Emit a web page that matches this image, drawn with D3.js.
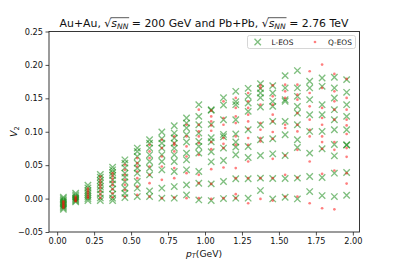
<!DOCTYPE html>
<html><head><meta charset="utf-8">
<script src="https://cdn.jsdelivr.net/npm/d3@7"></script>
<style>
body{margin:0;background:#fff;}
text{font-family:"DejaVu Sans",sans-serif;}
</style></head>
<body><svg id="c" width="399" height="266"></svg>
<script>
// pT bin centers (GeV)
const pT = [0.042,0.125,0.208,0.292,0.375,0.458,0.542,0.625,0.708,0.792,0.875,0.958,
            1.042,1.125,1.208,1.292,1.375,1.458,1.542,1.625,1.708,1.792,1.875,1.958];
// L-EOS v2 values, one list per pT bin
const lEOS = [
 [0.002,0.0,-0.002,-0.004,-0.006,-0.008,-0.010,-0.012,-0.014,-0.016],
 [0.008,0.0055,0.003,0.001,-0.0005,-0.002,-0.0035,-0.005],
 [0.020,0.016,0.012,0.009,0.006,0.003,0.000,-0.003],
 [0.036,0.032,0.027,0.023,0.018,0.013,0.007,0.001,-0.003],
 [0.047,0.043,0.039,0.0345,0.028,0.022,0.0145,0.0066,0.0006,-0.003],
 [0.058,0.053,0.046,0.038,0.032,0.025,0.0155,0.008,0.0015],
 [0.0756,0.0705,0.063,0.053,0.0456,0.038,0.0255,0.0156,0.003],
 [0.088,0.083,0.0756,0.0655,0.0555,0.0456,0.0355,0.0115,0.003],
 [0.0996,0.0895,0.083,0.0756,0.0655,0.0555,0.043,0.0156,0.0006],
 [0.109,0.098,0.0906,0.083,0.0756,0.0655,0.0555,0.0405,0.018,0.0006],
 [0.1206,0.113,0.1056,0.0955,0.0846,0.068,0.058,0.043,0.0205,0.0055],
 [0.1405,0.123,0.1105,0.098,0.0855,0.078,0.068,0.0405,0.023,-0.002],
 [0.133,0.132,0.111,0.091,0.085,0.070,0.055,0.022,-0.003],
 [0.151,0.140,0.118,0.096,0.0925,0.0756,0.057,0.0255,0.000],
 [0.1605,0.145,0.1405,0.118,0.0966,0.0846,0.077,0.0656,0.0296,0.0006],
 [0.165,0.153,0.143,0.1305,0.103,0.078,0.0615,0.0296,0.0006],
 [0.172,0.1645,0.158,0.151,0.137,0.1105,0.088,0.0645,0.0306,0.012],
 [0.169,0.158,0.1455,0.138,0.1155,0.0895,0.067,0.030,-0.0005],
 [0.184,0.1656,0.148,0.1455,0.1155,0.0955,0.0645,0.030,0.002],
 [0.1915,0.1656,0.153,0.138,0.128,0.1105,0.088,0.0765,0.0306,-0.0005],
 [0.1755,0.1656,0.148,0.1255,0.1005,0.068,0.033,0.0105],
 [0.1805,0.168,0.1405,0.1255,0.1005,0.0745,0.0315,0.0045],
 [0.1815,0.1656,0.1505,0.133,0.118,0.103,0.081,0.064,0.038,0.003],
 [0.178,0.159,0.1405,0.123,0.103,0.0805,0.080,0.039,0.005]
];
// Q-EOS v2 values, one list per pT bin
const qEOS = [
 [-0.004,-0.006,-0.008,-0.010,-0.012,-0.014],
 [0.003,0.001,-0.001,-0.003,-0.004],
 [0.015,0.012,0.009,0.006,0.003,0.001],
 [0.033,0.028,0.024,0.020,0.016,0.011,0.006,0.001],
 [0.038,0.034,0.030,0.025,0.020,0.014,0.008,0.002],
 [0.0506,0.043,0.0356,0.028,0.0206,0.013,0.003],
 [0.0606,0.053,0.048,0.0405,0.0306,0.018,0.0055],
 [0.0805,0.0705,0.0606,0.048,0.0355,0.023,0.003],
 [0.088,0.0756,0.063,0.048,0.028,0.0006],
 [0.093,0.083,0.0805,0.0705,0.0456,0.0306,0.0015],
 [0.1105,0.093,0.078,0.063,0.038,0.0006],
 [0.133,0.1105,0.1005,0.093,0.083,0.0655,0.0355,0.023,0.0006],
 [0.1316,0.123,0.1155,0.1095,0.1015,0.0846,0.074,0.044,0.022,-0.0005],
 [0.1455,0.1206,0.1105,0.0906,0.082,0.0756,0.0465,0.0006],
 [0.1506,0.1356,0.123,0.113,0.093,0.0805,0.0456,0.0306,0.0066,0.0006],
 [0.158,0.1455,0.1356,0.1255,0.1155,0.1045,0.0906,0.0805,0.0555,0.0306,-0.007],
 [0.1695,0.1656,0.1405,0.113,0.103,0.0906,0.0855,0.0306,-0.0005],
 [0.1695,0.153,0.1405,0.1255,0.1155,0.0996,0.0895,0.0595,0.0306,-0.003],
 [0.1705,0.1605,0.1506,0.1105,0.1056,0.0645,0.0355,0.003],
 [0.1705,0.1555,0.148,0.128,0.1105,0.1005,0.073,0.0315,0.003],
 [0.1905,0.158,0.138,0.118,0.103,0.093,0.0555,-0.007],
 [0.2005,0.1656,0.1356,0.1206,0.1105,0.093,0.0846,0.0745,0.037,-0.0145],
 [0.1865,0.1605,0.1455,0.133,0.118,0.0846,0.073,0.042,-0.016],
 [0.179,0.1506,0.133,0.118,0.1095,0.0966,0.0756,0.0625,0.038,0.0225]
];
const xTicks = [0,0.25,0.5,0.75,1.0,1.25,1.5,1.75,2.0];
const yTicks = [-0.05,0,0.05,0.10,0.15,0.20,0.25];
const seriesNames = ["L-EOS","Q-EOS"];

const svg = d3.select("#c");
const L=49, R=359.5, T=31.5, B=232;
const x = d3.scaleLinear().domain([-0.0552,2.045]).range([L,R]);
const y = d3.scaleLinear().domain([-0.05,0.25]).range([B,T]);

const fmt = v => d3.format(".2f")(v).replace("-","\u2212");

// points
const lPts = [], qPts = [];
pT.forEach((p,i)=>{ lEOS[i].forEach(v=>lPts.push([p,v])); qEOS[i].forEach(v=>qPts.push([p,v])); });

const s=3.2;
const gL = svg.append("g");
gL.selectAll("path").data(lPts).join("path")
  .attr("d",d=>{const cx=x(d[0]),cy=y(d[1]);return `M${cx-s},${cy-s}L${cx+s},${cy+s}M${cx-s},${cy+s}L${cx+s},${cy-s}`;})
  .attr("stroke","#008000").attr("stroke-opacity",0.5).attr("stroke-width",1.35).attr("fill","none");
const gQ = svg.append("g");
gQ.selectAll("circle").data(qPts).join("circle")
  .attr("cx",d=>x(d[0])).attr("cy",d=>y(d[1])).attr("r",1.35)
  .attr("fill","#ff0000").attr("fill-opacity",0.5);

// axes
const xa = svg.append("g").attr("transform",`translate(0,${B})`)
  .call(d3.axisBottom(x).tickValues(xTicks).tickFormat(fmt).tickSizeOuter(0).tickSize(3.5).tickPadding(2.5));
const ya = svg.append("g").attr("transform",`translate(${L},0)`)
  .call(d3.axisLeft(y).tickValues(yTicks).tickFormat(fmt).tickSizeOuter(0).tickSize(3.5).tickPadding(2.5));
[xa,ya].forEach(a=>{a.select(".domain").remove();
  a.selectAll("line").attr("stroke","#222").attr("stroke-width",0.8);
  a.selectAll("text").attr("font-size",8.2).attr("fill","#111").attr("font-family","DejaVu Sans");});

svg.append("rect").attr("x",L).attr("y",T).attr("width",R-L).attr("height",B-T)
  .attr("fill","none").attr("stroke","#222").attr("stroke-width",0.9);

// legend
const lg = svg.append("g");
lg.append("rect").attr("x",247.5).attr("y",35.5).attr("width",108).attr("height",13).attr("rx",2)
  .attr("fill","#fff").attr("fill-opacity",0.8).attr("stroke","#cccccc").attr("stroke-width",0.8);
const lx=257.7, ly=42;
lg.append("path").attr("d",`M${lx-s},${ly-s}L${lx+s},${ly+s}M${lx-s},${ly+s}L${lx+s},${ly-s}`)
  .attr("stroke","#008000").attr("stroke-opacity",0.5).attr("stroke-width",1.35);
lg.append("circle").attr("cx",315).attr("cy",ly).attr("r",1.35).attr("fill","#ff0000").attr("fill-opacity",0.5);
lg.append("text").attr("x",271.5).attr("y",44.8).attr("font-size",7.4).attr("fill","#111").text(seriesNames[0]);
lg.append("text").attr("x",328).attr("y",44.8).attr("font-size",7.4).attr("fill","#111").text(seriesNames[1]);

// x label
const xl = svg.append("text").attr("x",204).attr("y",256.5).attr("text-anchor","middle").attr("font-size",9.2).attr("fill","#111");
xl.append("tspan").attr("font-style","italic").text("p");
xl.append("tspan").attr("font-style","italic").attr("font-size",6.5).attr("dy",1.8).text("T");
xl.append("tspan").attr("dy",-1.8).text("(GeV)");

// y label
const yl = svg.append("text").attr("transform","translate(17,131.5) rotate(-90)").attr("text-anchor","middle").attr("font-size",9.5).attr("fill","#111");
yl.append("tspan").attr("font-style","italic").text("V");
yl.append("tspan").attr("font-size",6.7).attr("dy",1.8).text("2");

// title
const tt = svg.append("text").attr("x",204).attr("y",27).attr("text-anchor","middle").attr("font-size",10.9).attr("fill","#111");
const ov = [];
function rootPart(){
  tt.append("tspan").text("\u221A");
  const a = tt.append("tspan").attr("font-style","italic").text("s");
  const b = tt.append("tspan").attr("font-style","italic").attr("font-size",7.6).attr("dy",2.2).text("NN");
  tt.append("tspan").attr("dy",-2.2).text(" = ");
  ov.push([a,b]);
}
tt.append("tspan").text("Au+Au, ");
rootPart();
tt.append("tspan").text("200 GeV and Pb+Pb, ");
rootPart();
tt.append("tspan").text("2.76 TeV");
ov.forEach(([a,b])=>{
  const ba=a.node().getBBox(), bb=b.node().getBBox();
  svg.append("line").attr("x1",ba.x-0.8).attr("x2",bb.x+bb.width+0.5)
    .attr("y1",ba.y+0.7).attr("y2",ba.y+0.7).attr("stroke","#111").attr("stroke-width",0.7);
});
</script></body></html>
